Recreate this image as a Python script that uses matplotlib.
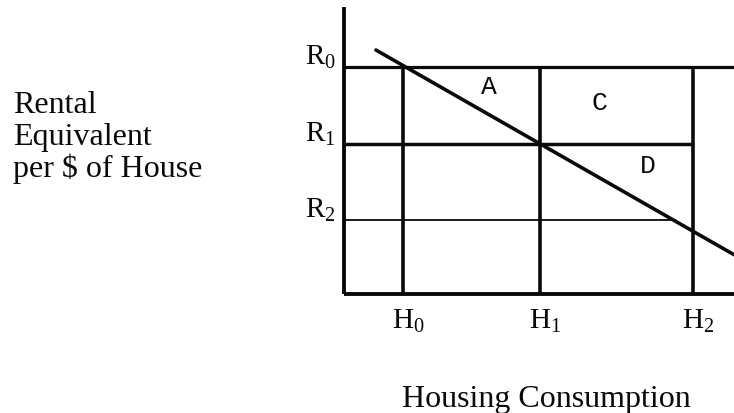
import matplotlib
matplotlib.use("Agg")
import matplotlib.pyplot as plt

# ---- data (diagram units) ----
h_labels = ["H", "H", "H"]
h_subs = ["0", "1", "2"]
h_values = [1.51, 5.03, 8.95]
r_labels = ["R", "R", "R"]
r_subs = ["0", "1", "2"]
r_values = [7.91, 5.23, 2.58]
r_line_end = [10.0, 8.95, 8.5]
demand_h = [0.82, 10.0]
demand_r = [8.5, 1.37]
area_labels = ["A", "C", "D"]
y_title = ["Rental", "Equivalent", "per $ of House"]
x_title = "Housing Consumption"

W, H = 734, 414
plt.rcParams["mathtext.fontset"] = "custom"
plt.rcParams["mathtext.rm"] = "Liberation Serif"
plt.rcParams["mathtext.it"] = "Liberation Serif:italic"
plt.rcParams["font.family"] = ["Liberation Serif", "DejaVu Serif"]

fig = plt.figure(figsize=(W / 100, H / 100), dpi=100)
fig.patch.set_facecolor("white")
ax = fig.add_axes([344 / W, (H - 295) / H, 390 / W, 287 / H])
ax.set_xlim(0, 10)
ax.set_ylim(0, 10)
ax.set_facecolor("white")
for s in ["top", "right"]:
    ax.spines[s].set_visible(False)
for s in ["left", "bottom"]:
    ax.spines[s].set_linewidth(2.8)
    ax.spines[s].set_color("#0a0a0a")
    ax.spines[s].set_capstyle("butt")
ax.set_xticks([])
ax.set_yticks([])

ink = "#0a0a0a"
r_widths = [2.3, 2.5, 1.3]
for r, end, lw in zip(r_values, r_line_end, r_widths):
    ax.plot([0, end], [r, r], color=ink, lw=lw, clip_on=False, solid_capstyle="butt")

for h in h_values:
    ax.plot([h, h], [0, r_values[0]], color=ink, lw=2.6, clip_on=False, solid_capstyle="butt")

ax.plot(demand_h, demand_r, color=ink, lw=2.6, clip_on=False, solid_capstyle="round")

# axis value labels
for lab, sub, r in zip(r_labels, r_subs, r_values):
    ax.annotate(r"$\mathrm{%s}_{\mathrm{%s}}$" % (lab, sub), xy=(0, r), xycoords="data",
                xytext=(-39, 3), textcoords="offset pixels",
                ha="left", va="baseline", fontsize=21, color=ink, annotation_clip=False)
for lab, sub, h in zip(h_labels, h_subs, h_values):
    ax.annotate(r"$\mathrm{%s}_{\mathrm{%s}}$" % (lab, sub), xy=(h, 0), xycoords="data",
                xytext=(-11, -34), textcoords="offset pixels",
                ha="left", va="baseline", fontsize=21, color=ink, annotation_clip=False)

# area labels
area_pos = [(3.72, 7.25), (6.56, 6.69), (7.79, 4.49)]
for lab, (x, y) in zip(area_labels, area_pos):
    ax.text(x, y, lab, ha="center", va="center", fontsize=19,
            family=["Liberation Mono", "DejaVu Sans Mono"], color=ink)

# titles
for i, line in enumerate(y_title):
    fig.text(13 / W, 1 - (113 + 32 * i) / H, line, ha="left", va="baseline",
             fontsize=23, color=ink)
fig.text(402 / W, 1 - 407 / H, x_title, ha="left", va="baseline", fontsize=23, color=ink)

fig.savefig("out.png", dpi=100, facecolor="white")
